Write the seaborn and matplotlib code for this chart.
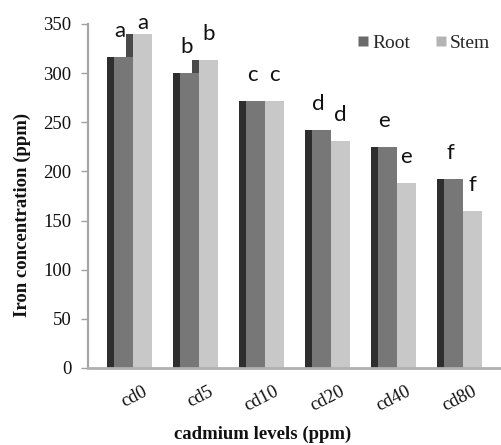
import matplotlib
matplotlib.use("Agg")
import matplotlib.pyplot as plt
import numpy as np
import pandas as pd
import seaborn as sns
from matplotlib.patches import Rectangle
from matplotlib.lines import Line2D
from matplotlib.transforms import ScaledTranslation

# ---- data ----
categories = ["cd0", "cd5", "cd10", "cd20", "cd40", "cd80"]
root_values = [316, 300, 272, 242, 225, 192]
stem_values = [340, 313, 272, 231, 188, 160]
root_letters = ["a", "b", "c", "d", "e", "f"]
stem_letters = ["a", "b", "c", "d", "e", "f"]
series_names = ["Root", "Stem"]
y_ticks = [0, 50, 100, 150, 200, 250, 300, 350]

df = pd.DataFrame({
    "level": categories * 2,
    "tissue": [series_names[0]] * len(categories) + [series_names[1]] * len(categories),
    "iron": root_values + stem_values,
})

sns.set_theme(style="ticks")
plt.rcParams["font.family"] = ["Liberation Serif", "DejaVu Serif"]

W, H = 501, 445
fig = plt.figure(figsize=(W / 100, H / 100), dpi=100)
ax = fig.add_axes([88 / W, 1 - 368 / H, 412 / W, 344 / H])

face = {"Root": "#777777", "Stem": "#c8c8c8"}
side = {"Root": "#2e2e2e", "Stem": "#4a4a4a"}
sns.barplot(data=df, x="level", y="iron", hue="tissue", hue_order=series_names,
            palette=face, width=0.57, saturation=1, errorbar=None,
            legend=False, ax=ax, linewidth=0)

depth = 0.105
root_c, stem_c = ax.containers[0], ax.containers[1]
for p in root_c:
    p.set_zorder(2)
    ax.add_patch(Rectangle((p.get_x() - depth, 0), depth, p.get_height(),
                           facecolor=side["Root"], edgecolor="none", zorder=2))
for p in stem_c:
    p.set_zorder(2)
    ax.add_patch(Rectangle((p.get_x() - depth, 0), depth, p.get_height(),
                           facecolor=side["Stem"], edgecolor="none", zorder=1))

ax.set_ylim(y_ticks[0], y_ticks[-1])
ax.set_xlim(-0.682, 5.56)

gap = 20.5
cap = y_ticks[-1] - 5
letter_font = ["Lato", "DejaVu Sans"]
for p, lab in zip(root_c, root_letters):
    xc = p.get_x() + p.get_width() / 2 - depth / 2
    ax.text(xc, min(p.get_height() + gap, cap), lab, ha="center", va="baseline",
            fontsize=16, family=letter_font, color="#111111", zorder=5, clip_on=False)
for p, lab in zip(stem_c, stem_letters):
    xc = p.get_x() + p.get_width() / 2
    ax.text(xc, min(p.get_height() + gap, cap), lab, ha="center", va="baseline",
            fontsize=16, family=letter_font, color="#111111", zorder=5, clip_on=False)

# axes styling
ax.set_yticks(y_ticks)
ax.tick_params(axis="y", length=5, width=1, color="#a0a0a0", direction="out",
               pad=7, labelsize=13.5, labelcolor="#111111")
ax.tick_params(axis="x", length=0, pad=11, labelsize=13.5, labelcolor="#111111")
for lab in ax.get_xticklabels():
    lab.set_rotation(27)
    lab.set_ha("right")
    lab.set_va("top")
    lab.set_rotation_mode("anchor")
    lab.set_transform(lab.get_transform() + ScaledTranslation(0.09, 0, fig.dpi_scale_trans))

for s in ["top", "right"]:
    ax.spines[s].set_visible(False)
ax.spines["left"].set_color("#a6a6a6")
ax.spines["left"].set_linewidth(1.6)
ax.spines["bottom"].set_color("#b0b0b0")
ax.spines["bottom"].set_linewidth(2)

ax.set_xlabel("cadmium levels (ppm)", fontsize=13.5, fontweight="bold", color="#111111")
ax.set_ylabel("Iron concentration (ppm)", fontsize=13.5, fontweight="bold", color="#111111")
ax.xaxis.set_label_coords((263 - 88) / 412, (368 - 426) / 344)
ax.yaxis.set_label_coords((31 - 88) / 412, (368 - 215) / 344)

handles = [Line2D([], [], marker="s", linestyle="none", markersize=6.5,
                  markerfacecolor=c, markeredgecolor="none")
           for c in ["#6a6a6a", "#b4b4b4"]]
fig.legend(handles, series_names, loc="center", bbox_to_anchor=(424 / W, 1 - 43 / H),
           ncol=2, frameon=False, fontsize=14, handlelength=0.6, handletextpad=0.15,
           columnspacing=1.3, borderpad=0)

fig.savefig("out.png", dpi=100)
